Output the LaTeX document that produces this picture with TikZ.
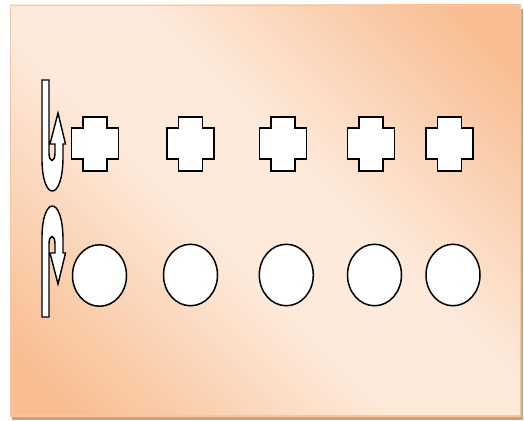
\documentclass[tikz,border=0pt]{standalone}
\usetikzlibrary{shapes.geometric}
\definecolor{bgdark}{HTML}{F8BE92}
\definecolor{bglight}{HTML}{FDEADB}
\definecolor{bgborder}{HTML}{FAC49C}
\definecolor{shadowc}{HTML}{C9A284}
\pgfdeclarehorizontalshading{bgshade}{100bp}{color(0bp)=(bgdark); color(20bp)=(bgdark); color(44bp)=(bglight); color(56bp)=(bglight); color(80bp)=(bgdark); color(100bp)=(bgdark)}
\tikzset{
  shapeline/.style={draw=black, line width=1.6pt, fill=white, line join=miter},
  ring/.style={ellipse, draw=black, line width=1.5pt, fill=white, minimum width=54pt, minimum height=61.5pt, inner sep=0pt},
  plusbox/.pic={\draw[shapeline] (-12,-27) -- (12,-27) -- (12,-15.5) -- (23.5,-15.5) -- (23.5,15.5) -- (12,15.5) -- (12,27) -- (-12,27) -- (-12,15.5) -- (-23.5,15.5) -- (-23.5,-15.5) -- (-12,-15.5) -- cycle;},
  uturn/.pic={\draw[shapeline, line width=1.4pt] (42,317) -- (42,238) .. controls (42,195) and (63,195) .. (63,240) -- (63,253) -- (65.5,253) -- (58,284) -- (50,253) -- (55,253) -- (55,244) .. controls (55,234) and (49,234) .. (49,244) -- (49,317) -- cycle;}
}
\begin{document}
\begin{tikzpicture}[x=1pt,y=-1pt]
\useasboundingbox (0,0) rectangle (524,420);
% shadow and background
\fill[shadowc] (12,9) rectangle (523,420);
\shade[shading=bgshade, shading angle=45] (10,5) rectangle (521,416.5);
\draw[bgborder, line width=1.2pt] (10.6,5.6) rectangle (520.4,415.9);
% crosses
\pic (x1) at (95,143.7) {plusbox};
\pic (x2) at (190.5,143.7) {plusbox};
\pic (x3) at (283,143.7) {plusbox};
\pic (x4) at (370.8,143.7) {plusbox};
\pic (x5) at (449.5,143.7) {plusbox};
% circles
\node[ring] (c1) at (99.5,275.5) {};
\node[ring] (c2) at (190.5,275) {};
\node[ring] (c3) at (286.3,275) {};
\node[ring] (c4) at (374.5,275) {};
\node[ring] (c5) at (453,275) {};
% u-turn arrows
\pic (ubottom) at (0,0) {uturn};
\begin{scope}[yshift=-397pt, y=1pt]
\pic (utop) at (0,0) {uturn};
\end{scope}
\end{tikzpicture}
\end{document}
